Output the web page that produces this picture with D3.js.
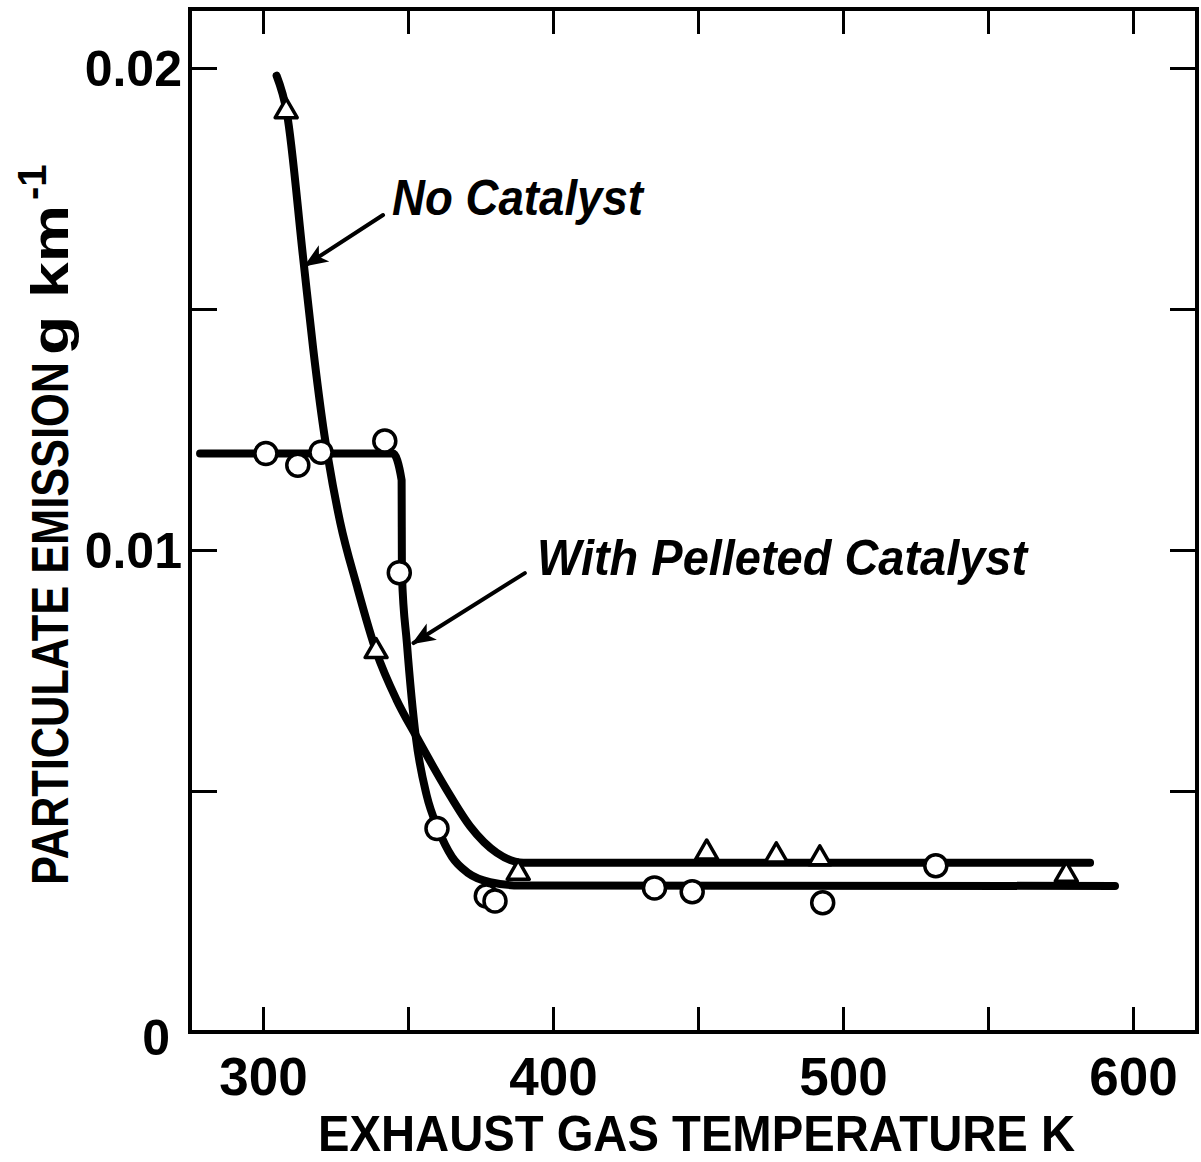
<!DOCTYPE html>
<html>
<head>
<meta charset="utf-8">
<script src="https://cdn.jsdelivr.net/npm/d3@7"></script>
<style>
  html, body { margin: 0; padding: 0; background: #fff; }
  svg { display: block; }
</style>
</head>
<body>
<script>
// ---- Data ----
const noCatTemp   = [308, 339, 388, 453, 477, 492, 577];
const noCatEmis   = [0.0191, 0.0079, 0.0033, 0.00372, 0.00366, 0.0036, 0.00326];

const pelletTemp  = [301, 312, 320, 342, 347, 360, 377, 380, 435, 448, 493, 532];
const pelletEmis  = [0.0120, 0.01176, 0.01203, 0.01226, 0.00953, 0.00422, 0.00282, 0.00272, 0.00299, 0.00291, 0.00268, 0.00345];

// fitted curves drawn by hand in the original
const noCatCurveTemp  = [304.7, 308.2, 313.9, 317.3, 320.8, 322.5, 326.6, 332.3, 339.0, 346.0, 353.0, 363.3, 371.4, 380.6, 389.8, 585.2];
const noCatCurveEmis  = [0.01984, 0.01908, 0.01603, 0.01418, 0.01254, 0.01189, 0.01058, 0.00927, 0.00790, 0.00690, 0.00612, 0.00503, 0.00427, 0.00372, 0.00351, 0.00351];
const pelletCurveTemp = [278.3, 344.8, 347.8, 347.9, 349.6, 352.7, 356.4, 360.4, 365.2, 370.7, 378.3, 388.6, 593.8];
const pelletCurveEmis = [0.01200, 0.01200, 0.01145, 0.00950, 0.00808, 0.00612, 0.00492, 0.00421, 0.00363, 0.00330, 0.00311, 0.00304, 0.00303];

const xTicks = [300, 350, 400, 450, 500, 550, 600];
const xTickLabels = ["300", "", "400", "", "500", "", "600"];
const yTicks = [0, 0.005, 0.01, 0.015, 0.02];
const yTickLabels = ["0", "", "0.01", "", "0.02"];

const xTitle = "EXHAUST GAS TEMPERATURE K";
const yTitle = "PARTICULATE EMISSION";
const label1 = "No Catalyst";
const label2 = "With Pelleted Catalyst";

// ---- Layout ----
const W = 1201, H = 1162;
const L = 190, R = 1197, T = 9, B = 1032;

const x = d3.scaleLinear().domain([274.83, 622.07]).range([L, R]);
const y = d3.scaleLinear().domain([0, 0.021224]).range([B, T]);

const svg = d3.select("body").append("svg").attr("width", W).attr("height", H);
const font = "'Liberation Sans', Arial, sans-serif";

// Frame
svg.append("rect").attr("x", L).attr("y", T).attr("width", R - L).attr("height", B - T)
  .attr("fill", "none").attr("stroke", "#000").attr("stroke-width", 4);

function styleAxis(g) {
  g.select(".domain").remove();
  g.selectAll(".tick line").attr("stroke", "#000").attr("stroke-width", 3);
}

// Bottom axis
const gx = svg.append("g").attr("transform", `translate(0,${B})`)
  .call(d3.axisBottom(x).tickValues(xTicks).tickSizeInner(-25).tickSizeOuter(0).tickPadding(25)
    .tickFormat((d, i) => xTickLabels[i]));
styleAxis(gx);
gx.selectAll(".tick text").attr("font-family", font).attr("font-weight", "bold")
  .attr("font-size", 53).attr("fill", "#000");

// Top axis
const gxt = svg.append("g").attr("transform", `translate(0,${T})`)
  .call(d3.axisTop(x).tickValues(xTicks).tickSizeInner(-25).tickSizeOuter(0).tickFormat(""));
styleAxis(gxt);

// Left axis
const gy = svg.append("g").attr("transform", `translate(${L},0)`)
  .call(d3.axisLeft(y).tickValues(yTicks).tickSizeInner(-27).tickSizeOuter(0).tickPadding(8)
    .tickFormat((d, i) => yTickLabels[i]));
styleAxis(gy);
gy.selectAll(".tick text").attr("font-family", font).attr("font-weight", "bold")
  .attr("font-size", 50).attr("fill", "#000").attr("dy", "0.36em");
gy.selectAll(".tick text").filter((d) => d === 0).attr("dx", -12).attr("dy", "0.45em");

// Right axis
const gyr = svg.append("g").attr("transform", `translate(${R},0)`)
  .call(d3.axisRight(y).tickValues(yTicks).tickSizeInner(-27).tickSizeOuter(0).tickFormat(""));
styleAxis(gyr);

// Axis titles
svg.append("text").attr("x", 318).attr("y", 1151)
  .attr("font-family", font).attr("font-weight", "bold").attr("font-size", 50)
  .attr("textLength", 757).attr("lengthAdjust", "spacingAndGlyphs")
  .text(xTitle);

const yt = svg.append("g").attr("transform", "translate(68,885) rotate(-90)");
yt.append("text").attr("x", 0).attr("y", 0)
  .attr("font-family", font).attr("font-weight", "bold").attr("font-size", 52)
  .attr("textLength", 523).attr("lengthAdjust", "spacingAndGlyphs")
  .text(yTitle);
yt.append("text").attr("x", 530).attr("y", 0)
  .attr("font-family", font).attr("font-weight", "bold").attr("font-size", 52)
  .attr("textLength", 150).attr("lengthAdjust", "spacingAndGlyphs")
  .text("g km");
yt.append("text").attr("x", 685).attr("y", -22)
  .attr("font-family", font).attr("font-weight", "bold").attr("font-size", 40)
  .text("-1");

// Curves
const line = d3.line().x(d => x(d[0])).y(d => y(d[1])).curve(d3.curveMonotoneX);
svg.append("path").datum(d3.zip(noCatCurveTemp, noCatCurveEmis))
  .attr("d", line).attr("fill", "none").attr("stroke", "#000").attr("stroke-width", 8)
  .attr("stroke-linecap", "round").attr("stroke-linejoin", "round");
svg.append("path").datum(d3.zip(pelletCurveTemp, pelletCurveEmis))
  .attr("d", line).attr("fill", "none").attr("stroke", "#000").attr("stroke-width", 8)
  .attr("stroke-linecap", "round").attr("stroke-linejoin", "round");

// Markers
svg.append("g").selectAll("circle").data(d3.zip(pelletTemp, pelletEmis)).join("circle")
  .attr("cx", d => x(d[0])).attr("cy", d => y(d[1])).attr("r", 11)
  .attr("fill", "#fff").attr("stroke", "#000").attr("stroke-width", 3.5);

const tri = d3.symbol().type(d3.symbolTriangle).size(210);
svg.append("g").selectAll("path").data(d3.zip(noCatTemp, noCatEmis)).join("path")
  .attr("d", tri).attr("transform", d => `translate(${x(d[0])},${y(d[1])})`)
  .attr("fill", "#fff").attr("stroke", "#000").attr("stroke-width", 3.5).attr("stroke-linejoin", "round");

// Arrows
const defs = svg.append("defs");
defs.append("marker").attr("id", "ah").attr("viewBox", "0 0 10 10").attr("refX", 9).attr("refY", 5)
  .attr("markerWidth", 6).attr("markerHeight", 6).attr("markerUnits", "strokeWidth").attr("orient", "auto")
  .append("path").attr("d", "M0,1 L10,5 L0,9 L2.5,5 Z").attr("fill", "#000");

const arrows = [
  { from: [341.4, 0.01695], to: [314.8, 0.01591] },
  { from: [390.3, 0.00952], to: [351.9, 0.00807] }
];
svg.append("g").selectAll("line").data(arrows).join("line")
  .attr("x1", d => x(d.from[0])).attr("y1", d => y(d.from[1]))
  .attr("x2", d => x(d.to[0])).attr("y2", d => y(d.to[1]))
  .attr("stroke", "#000").attr("stroke-width", 4).attr("stroke-linecap", "round")
  .attr("marker-end", "url(#ah)");

// Curve labels
svg.append("text").attr("x", x(344.5)).attr("y", y(0.01695))
  .attr("font-family", font).attr("font-weight", "bold").attr("font-style", "italic")
  .attr("font-size", 50).attr("textLength", 251).attr("lengthAdjust", "spacingAndGlyphs")
  .text(label1);
svg.append("text").attr("x", x(394.5)).attr("y", y(0.00948))
  .attr("font-family", font).attr("font-weight", "bold").attr("font-style", "italic")
  .attr("font-size", 50).attr("textLength", 490).attr("lengthAdjust", "spacingAndGlyphs")
  .text(label2);
</script>
</body>
</html>
